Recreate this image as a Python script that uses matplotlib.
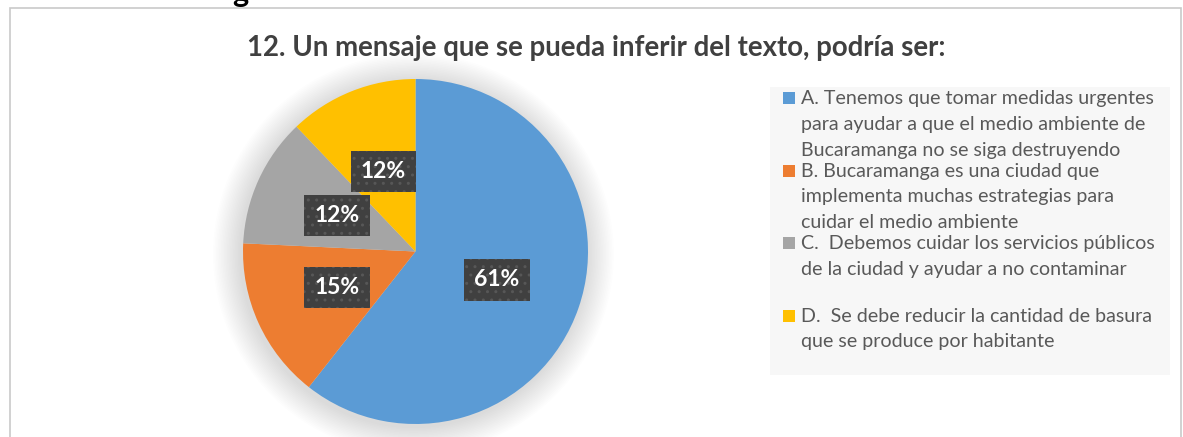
import matplotlib
matplotlib.use("Agg")
import matplotlib.pyplot as plt
from matplotlib.patches import Rectangle, Circle

# chart data (20, 5, 4, 4 answers out of 33)
counts = [20, 5, 4, 4]
colors = ['#5B9BD5', '#ED7D31', '#A5A5A5', '#FFC000']
labels = [
    "A. Tenemos que tomar medidas urgentes\npara ayudar a que el medio ambiente de\nBucaramanga no se siga destruyendo",
    "B. Bucaramanga es una ciudad que\nimplementa muchas estrategias para\ncuidar el medio ambiente",
    "C.  Debemos cuidar los servicios públicos\nde la ciudad y ayudar a no contaminar",
    "D.  Se debe reducir la cantidad de basura\nque se produce por habitante",
]
title = "12. Un mensaje que se pueda inferir del texto, podría ser:"

plt.rcParams['font.family'] = ['Lato', 'DejaVu Sans']

W, H = 1183, 437
fig = plt.figure(figsize=(W / 100, H / 100), dpi=100)
fig.patch.set_facecolor('white')

def fx(px):
    return px / W

def fy(py):
    return 1 - py / H

# cut off heading above the chart
fig.text(fx(232), fy(2), "g", fontsize=22, fontweight='bold', color='black',
         ha='left', va='baseline')

# chart frame
fig.add_artist(Rectangle((fx(9.5), -0.1), fx(1180.5) - fx(9.5), fy(8.5) + 0.1,
                         transform=fig.transFigure, fill=False,
                         edgecolor='#C9C9C9', linewidth=1.2))

fig.text(fx(596), fy(56), title, fontsize=19.9, fontweight='bold',
         color='#404040', ha='center', va='baseline')

# pie
cx, cy, r = 415.5, 251.5, 172.5
ax = fig.add_axes([fx(cx - r), fy(cy + r), (2 * r) / W, (2 * r) / H])
# soft shadow around the pie
for i in range(18):
    rr = 1.0 + 0.009 * (i + 1)
    ax.add_patch(Circle((-0.012, -0.015), rr, facecolor='black', alpha=0.008,
                        linewidth=0, zorder=0, clip_on=False))
wedges, texts, autotexts = ax.pie(counts, colors=colors, startangle=90,
                                  counterclock=False, autopct='%1.0f%%',
                                  pctdistance=0.5,
                                  wedgeprops=dict(linewidth=0, zorder=2))
for t in autotexts:
    t.set_color('white')
    t.set_fontsize(16.5)
    t.set_fontweight('bold')
    t.set_zorder(5)
    t.set_bbox(dict(boxstyle='square,pad=0.45', facecolor='#404040',
                    edgecolor='#575757', linewidth=0, hatch='..'))
ax.set_xlim(-1, 1)
ax.set_ylim(-1, 1)
ax.set_aspect('equal')
ax.axis('off')

# legend
fig.add_artist(Rectangle((fx(770), fy(375)), fx(1170) - fx(770), fy(87) - fy(375),
                         transform=fig.transFigure, facecolor='#F7F7F7',
                         edgecolor='none'))
base0, step, pitch = 104, 72.5, 25.8
for i, (lab, col) in enumerate(zip(labels, colors)):
    b = base0 + i * step
    fig.add_artist(Rectangle((fx(783), fy(b)), 12 / W, 12 / H,
                             transform=fig.transFigure, facecolor=col,
                             edgecolor='none'))
    for j, line in enumerate(lab.split('\n')):
        fig.text(fx(801), fy(b + j * pitch), line, fontsize=14.1,
                 color='#595959', ha='left', va='baseline')

fig.savefig('out.png', dpi=100)
